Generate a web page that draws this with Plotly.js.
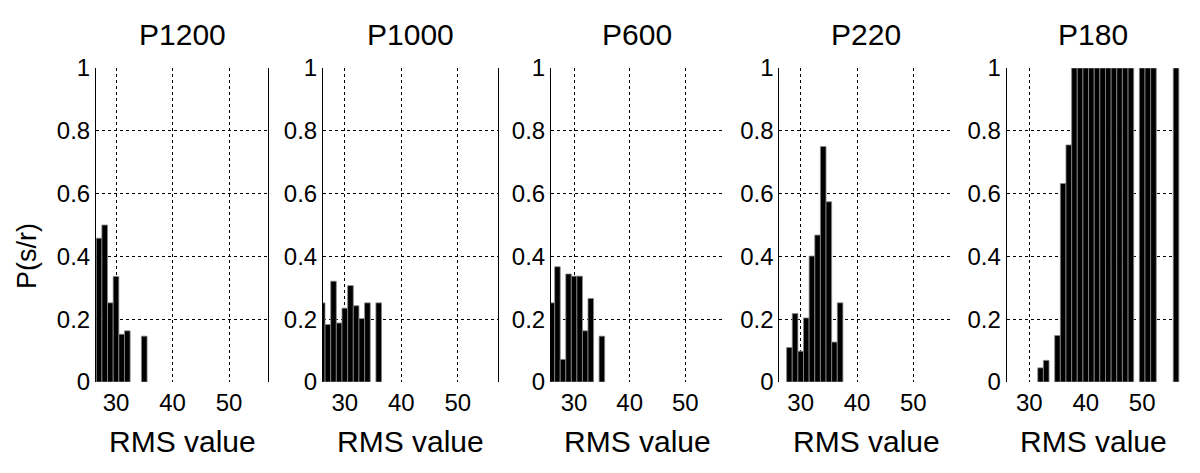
<!DOCTYPE html>
<html>
<head>
<meta charset="utf-8">
<script src="https://cdn.plot.ly/plotly-3.0.1.min.js"></script>
<style>html,body{margin:0;padding:0;background:#fff;}#chart{width:1200px;height:473px;}</style>
</head>
<body>
<div id="chart"></div>
<script>
// Panel titles
const panelTitles = ["P1200", "P1000", "P600", "P220", "P180"];

// RMS value bins (x) and P(s/r) values (y)
const p1200_x = [27, 28, 29, 30, 31, 32, 35];
const p1200_y = [0.458, 0.5, 0.252, 0.336, 0.152, 0.163, 0.146];

const p1000_x = [26, 27, 28, 29, 30, 31, 32, 33, 34, 36];
const p1000_y = [0.252, 0.183, 0.321, 0.188, 0.235, 0.307, 0.243, 0.202, 0.252, 0.252];

const p600_x = [26, 27, 28, 29, 30, 31, 32, 33, 35];
const p600_y = [0.252, 0.367, 0.072, 0.344, 0.337, 0.337, 0.163, 0.266, 0.146];

const p220_x = [28, 29, 30, 31, 32, 33, 34, 35, 36, 37];
const p220_y = [0.11, 0.218, 0.098, 0.204, 0.401, 0.468, 0.75, 0.574, 0.127, 0.252];

const p180_x = [32, 33, 35, 36, 37, 38, 39, 40, 41, 42, 43, 44, 45, 46, 47, 48, 50, 51, 52, 56];
const p180_y = [0.045, 0.069, 0.148, 0.632, 0.755, 1, 1, 1, 1, 1, 1, 1, 1, 1, 1, 1, 1, 1, 1, 1];

const xTickVals = [30, 40, 50];
const yTickVals = [0, 0.2, 0.4, 0.6, 0.8, 1];
const xLabel = "RMS value";
const yLabel = "P(s/r)";

const seriesX = [p1200_x, p1000_x, p600_x, p220_x, p180_x];
const seriesY = [p1200_y, p1000_y, p600_y, p220_y, p180_y];

// layout geometry (pixels)
const W = 1200, H = 473;
const domPx = [[96, 268], [323, 498], [551, 723], [779.3, 953], [1006.7, 1180]];
const xRanges = [[26.46, 56.9], [26.14, 57.1], [25.84, 56.8], [26.2, 57.05], [26.0, 56.7]];
const mirrorRight = [true, true, false, false, false];
const plotTop = 68, plotBottom = 382;

const FONT = "Liberation Sans, Arial, Helvetica, sans-serif";

const traces = [];
const layout = {
  width: W, height: H,
  margin: {l: 0, r: 0, t: 0, b: 0},
  paper_bgcolor: "#fff", plot_bgcolor: "#fff",
  showlegend: false,
  bargap: 0,
  font: {family: FONT, color: "#000", size: 24},
  annotations: []
};

for (let i = 0; i < 5; i++) {
  const sfx = i === 0 ? "" : String(i + 1);
  traces.push({
    type: "bar",
    x: seriesX[i], y: seriesY[i],
    width: 1,
    xaxis: "x" + sfx, yaxis: "y" + sfx,
    marker: {color: "#000", line: {color: "#8a8a8a", width: 0.8}},
    hoverinfo: "skip"
  });
  const dx = [domPx[i][0] / W, domPx[i][1] / W];
  const dy = [(H - plotBottom) / H, (H - plotTop) / H];
  layout["xaxis" + sfx] = {
    domain: dx, range: xRanges[i], anchor: "y" + sfx,
    tickvals: xTickVals, ticks: "", showline: false, zeroline: false,
    showgrid: true, gridcolor: "#000", gridwidth: 1, griddash: "dot",
    tickfont: {family: FONT, size: 24, color: "#000"},
    ticklabelstandoff: 4,
    fixedrange: true
  };
  layout["yaxis" + sfx] = {
    domain: dy, range: [0, 1], anchor: "x" + sfx,
    tickvals: yTickVals, ticks: "", showline: true, linecolor: "#000", linewidth: 1,
    mirror: mirrorRight[i] ? true : false,
    zeroline: false,
    showgrid: true, gridcolor: "#000", gridwidth: 1, griddash: "dot",
    tickfont: {family: FONT, size: 24, color: "#000"},
    ticklabelstandoff: 0,
    fixedrange: true
  };
  const cx = (domPx[i][0] + domPx[i][1]) / 2 / W;
  layout.annotations.push({
    text: panelTitles[i], xref: "paper", yref: "paper",
    x: cx, y: 1 - 34 / H, xanchor: "center", yanchor: "middle",
    showarrow: false, font: {family: FONT, size: 30, color: "#000"}
  });
  layout.annotations.push({
    text: xLabel, xref: "paper", yref: "paper",
    x: cx, y: 1 - 441 / H, xanchor: "center", yanchor: "middle",
    showarrow: false, font: {family: FONT, size: 30, color: "#000"}
  });
}
layout.annotations.push({
  text: yLabel, xref: "paper", yref: "paper",
  x: 27 / W, y: 1 - 256 / H, xanchor: "center", yanchor: "middle",
  textangle: -90, showarrow: false, font: {family: FONT, size: 27, color: "#000"}
});

Plotly.newPlot("chart", traces, layout, {staticPlot: true, displayModeBar: false});
</script>
</body>
</html>
